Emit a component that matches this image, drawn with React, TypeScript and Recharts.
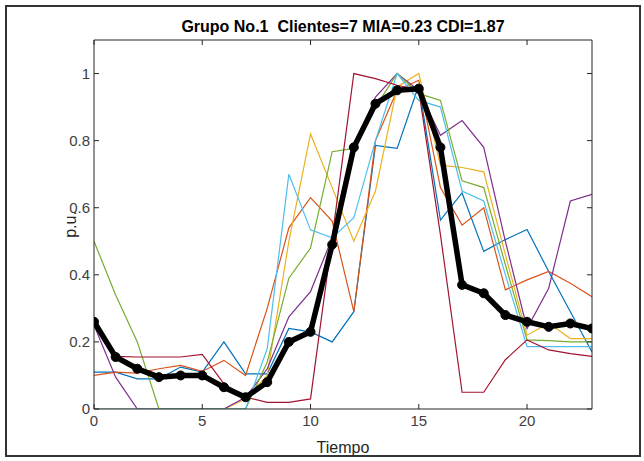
import { LineChart, Line, XAxis, YAxis } from 'recharts';

const tiempo = [0, 1, 2, 3, 4, 5, 6, 7, 8, 9, 10, 11, 12, 13, 14, 15, 16, 17, 18, 19, 20, 21, 22, 23];

const cliente1 = [0.11, 0.11, 0.09, 0.09, 0.125, 0.11, 0.2, 0.105, 0.105, 0.24, 0.23, 0.2, 0.29, 0.786, 0.777, 0.965, 0.563, 0.644, 0.47, 0.505, 0.535, 0.41, 0.29, 0.17];
const cliente2 = [0.1, 0.11, 0.107, 0.12, 0.13, 0.112, 0.145, 0.1, 0.3, 0.54, 0.63, 0.56, 0.29, 0.8, 0.95, 0.98, 0.66, 0.548, 0.6, 0.355, 0.385, 0.41, 0.375, 0.335];
const cliente3 = [0, 0, 0, 0, 0, 0, 0, 0.03, 0.1, 0.5, 0.82, 0.66, 0.5, 0.65, 0.96, 1.0, 0.727, 0.72, 0.707, 0.46, 0.22, 0.256, 0.21, 0.21];
const cliente4 = [0.25, 0.095, 0, 0, 0, 0, 0, 0.035, 0.12, 0.275, 0.35, 0.51, 0.78, 0.93, 1.0, 0.95, 0.816, 0.86, 0.78, 0.5, 0.24, 0.36, 0.62, 0.64];
const cliente5 = [0.5, 0.34, 0.2, 0, 0, 0, 0, 0, 0.14, 0.39, 0.48, 0.767, 0.777, 0.9, 1.0, 0.94, 0.92, 0.68, 0.66, 0.43, 0.206, 0.204, 0.2, 0.2];
const cliente6 = [0, 0, 0, 0, 0, 0, 0, 0, 0.18, 0.7, 0.534, 0.51, 0.57, 0.8, 1.0, 0.92, 0.9, 0.65, 0.62, 0.4, 0.186, 0.186, 0.186, 0.186];
const cliente7 = [0.25, 0.157, 0.155, 0.155, 0.155, 0.163, 0.075, 0.035, 0.02, 0.02, 0.03, 0.51, 1.0, 0.985, 0.965, 0.95, 0.52, 0.05, 0.05, 0.147, 0.206, 0.176, 0.165, 0.157];
const centroide = [0.26, 0.155, 0.12, 0.095, 0.1, 0.1, 0.065, 0.035, 0.08, 0.2, 0.23, 0.49, 0.78, 0.91, 0.95, 0.955, 0.78, 0.37, 0.345, 0.28, 0.26, 0.245, 0.255, 0.24];

const clientes = [cliente1, cliente2, cliente3, cliente4, cliente5, cliente6, cliente7];
const colores = ['#0072BD', '#D95319', '#EDB120', '#7E2F8E', '#77AC30', '#4DBEEE', '#A2142F'];

const xTicks = [0, 5, 10, 15, 20];
const yTicks = [0, 0.2, 0.4, 0.6, 0.8, 1];

const titulo = 'Grupo No.1  Clientes=7 MIA=0.23 CDI=1.87';

const data = tiempo.map((t, i) => {
  const row: Record<string, number> = { t, centro: centroide[i] };
  clientes.forEach((c, k) => {
    row['c' + k] = c[i];
  });
  return row;
});

const font = '"Liberation Sans", Arial, sans-serif';
const ejeColor = '#262626';

export default function App() {
  return (
    <div style={{ position: 'absolute', left: 0, top: 0, width: 644, height: 461, background: '#fff', fontFamily: font }}>
      <div style={{ position: 'absolute', left: 5, top: 5, width: 632, height: 448, border: '2px solid #333' }} />
      <div
        style={{
          position: 'absolute',
          left: 94,
          top: 18,
          width: 498,
          textAlign: 'center',
          fontSize: 16,
          fontWeight: 'bold',
          lineHeight: '18px',
          color: '#000',
          whiteSpace: 'pre',
        }}
      >
        {titulo}
      </div>
      <LineChart
        width={644}
        height={461}
        data={data}
        margin={{ top: 39, right: 51, bottom: 12, left: 0 }}
        style={{ position: 'absolute', left: 0, top: 0, fontFamily: font }}
      >
        <XAxis
          dataKey="t"
          type="number"
          domain={[0, 23]}
          ticks={xTicks}
          allowDataOverflow
          height={40}
          stroke={ejeColor}
          tickSize={-5}
          tickMargin={11}
          tick={{ fill: '#404040', fontSize: 15 }}
          label={{ value: 'Tiempo', position: 'insideBottom', offset: -4, fill: ejeColor, fontSize: 16 }}
        />
        <XAxis
          xAxisId="top"
          orientation="top"
          dataKey="t"
          type="number"
          domain={[0, 23]}
          ticks={xTicks}
          allowDataOverflow
          height={1}
          stroke={ejeColor}
          tickSize={-5}
          tickFormatter={() => ''}
        />
        <YAxis
          type="number"
          domain={[0, 1.1]}
          ticks={yTicks}
          allowDataOverflow
          width={94}
          stroke={ejeColor}
          tickSize={-5}
          tickMargin={9}
          tick={{ fill: '#404040', fontSize: 15 }}
          label={{ value: 'p.u.', angle: -90, position: 'center', dx: 23, fill: ejeColor, fontSize: 16 }}
        />
        <YAxis
          yAxisId="right"
          orientation="right"
          type="number"
          domain={[0, 1.1]}
          ticks={yTicks}
          allowDataOverflow
          width={1}
          stroke={ejeColor}
          tickSize={-5}
          tickFormatter={() => ''}
        />
        {/* serie invisible para que los ejes superior y derecho se dibujen */}
        <Line
          xAxisId="top"
          yAxisId="right"
          dataKey="centro"
          stroke="none"
          dot={false}
          legendType="none"
          isAnimationActive={false}
        />
        {clientes.map((_, k) => (
          <Line
            key={k}
            dataKey={'c' + k}
            type="linear"
            stroke={colores[k]}
            strokeWidth={1.2}
            dot={false}
            isAnimationActive={false}
          />
        ))}
        <Line
          dataKey="centro"
          type="linear"
          stroke="#000"
          strokeWidth={5.5}
          dot={{ r: 4.5, fill: '#000', stroke: '#000', strokeWidth: 1 }}
          isAnimationActive={false}
        />
      </LineChart>
    </div>
  );
}
